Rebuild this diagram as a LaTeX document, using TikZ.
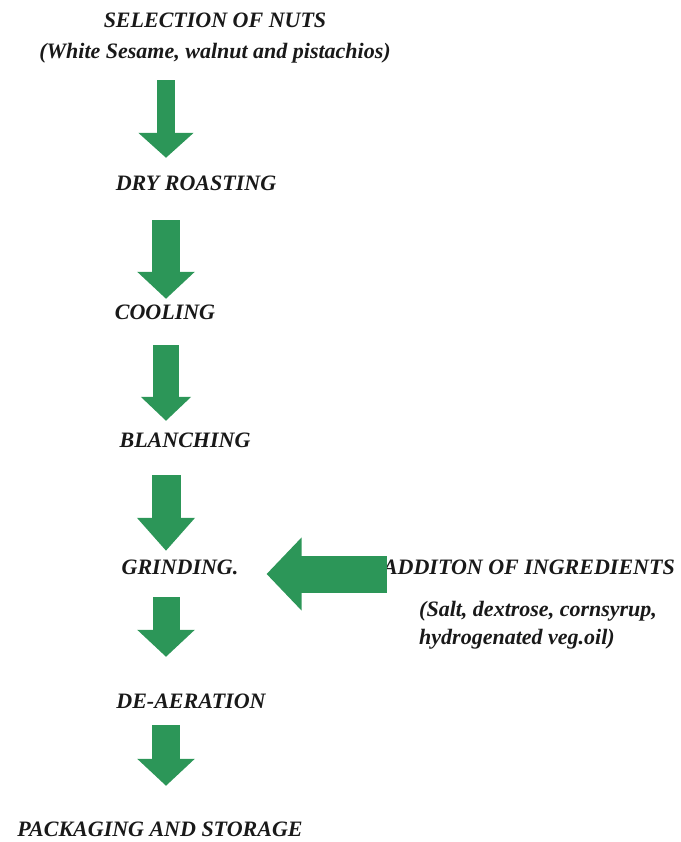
\documentclass[tikz,border=0pt]{standalone}
\usepackage{fontspec}
\setmainfont{Liberation Serif}
\usetikzlibrary{arrows.meta}
\definecolor{nutgreen}{RGB}{44,150,88}
\definecolor{inkblack}{RGB}{25,25,25}
\tikzset{
  stage/.style={inner sep=0pt, anchor=base, text height=15pt, text depth=5pt, text=inkblack,
    font=\fontsize{22}{26}\selectfont\bfseries\itshape},
  flow/.style={draw=nutgreen, line width=#1, -{Triangle[length=27pt,width=56pt]}},
}
\begin{document}
\begin{tikzpicture}[x=1pt, y=-1pt]
    \useasboundingbox (0,0) rectangle (680,842);
    \coordinate (axis) at (166,0);
    % process steps
    \node[stage] (sel) at (215,28) {SELECTION OF NUTS};
    \node[stage] (sub) at (215,59) {(White Sesame, walnut and pistachios)};
    \node[stage] (dry) at (196,191) {DRY ROASTING};
    \node[stage] (cool) at (165,319) {COOLING};
    \node[stage] (blanch) at (185,447) {BLANCHING};
    \node[stage] (grind) at (180,574) {GRINDING.};
    \node[stage] (deaer) at (191,708) {DE-AERATION};
    \node[stage] (pack) at (160,836) {PACKAGING AND STORAGE};
    % ingredients
    \node[stage, anchor=base east] (add) at (675,574) {ADDITON OF INGREDIENTS};
    \node[stage, anchor=base west] (salt) at (419,616) {(Salt, dextrose, cornsyrup,};
    \node[stage, anchor=base west] (hydro) at (419,644) {hydrogenated veg.oil)};
    % arrows
    \draw[flow=18pt, -{Triangle[length=25pt,width=54pt]}, shorten <=16pt, shorten >=18pt] (sub.south -| axis) -- (dry.north -| axis);
    \draw[flow=28pt, shorten <=24pt, shorten >=5pt] (dry.south -| axis) -- (cool.north -| axis);
    \draw[flow=26pt, -{Triangle[length=24pt,width=49pt]}, shorten <=21pt, shorten >=11pt] (cool.south -| axis) -- (blanch.north -| axis);
    \draw[flow=29pt, -{Triangle[length=33pt,width=56pt]}, shorten <=23pt, shorten >=8pt] (blanch.south -| axis) -- (grind.north -| axis);
    \draw[flow=27pt, shorten <=18pt, shorten >=36pt] (grind.south -| axis) -- (deaer.north -| axis);
    \draw[flow=28pt, shorten <=12pt, shorten >=35pt] (deaer.south -| axis) -- (pack.north -| axis);
    \draw[flow=37pt, -{Triangle[length=35pt,width=71pt]}, shorten <=-4pt, shorten >=28pt] (add.base west) -- (grind.base east); %side feed
\end{tikzpicture}
\end{document}
